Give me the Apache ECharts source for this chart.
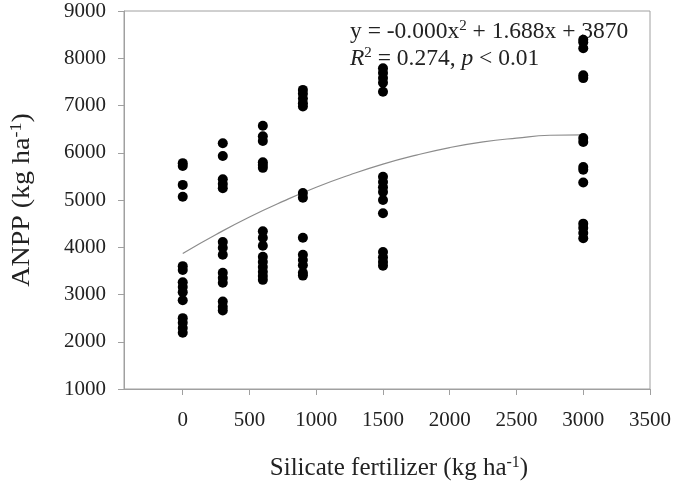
<!DOCTYPE html>
<html>
<head>
<meta charset="utf-8">
<script src="https://cdn.jsdelivr.net/npm/echarts@6/dist/echarts.min.js"></script>
<style>
html,body{margin:0;padding:0;background:#fff;}
#chart{width:675px;height:490px;}
</style>
</head>
<body>
<div id="chart"></div>
<script>
// Silicate fertilizer levels (kg ha-1)
var fertilizerLevels = [0, 300, 600, 900, 1500, 3000];
// ANPP observations (kg ha-1) at each level
var anpp0    = [5780, 5720, 5320, 5070, 3600, 3520, 3260, 3160, 3050, 2880, 2500, 2400, 2290, 2190];
var anpp300  = [6200, 5930, 5440, 5340, 5250, 4110, 3990, 3840, 3460, 3350, 3250, 2850, 2740, 2660];
var anpp600  = [6570, 6350, 6250, 5800, 5740, 5680, 4340, 4200, 4030, 3800, 3690, 3580, 3480, 3390, 3310];
var anpp900  = [7330, 7250, 7150, 7050, 6980, 5150, 5050, 4200, 3840, 3730, 3620, 3460, 3400];
var anpp1500 = [7790, 7690, 7580, 7480, 7290, 5490, 5380, 5270, 5170, 5000, 4720, 3900, 3790, 3690, 3610];
var anpp3000 = [8390, 8340, 8210, 7640, 7580, 6310, 6230, 5700, 5640, 5370, 4500, 4410, 4300, 4190];
var anppGroups = [anpp0, anpp300, anpp600, anpp900, anpp1500, anpp3000];

// Fitted quadratic curve
var fitX = [0, 250, 500, 750, 1000, 1250, 1500, 1750, 2000, 2250, 2500, 2750, 3000];
var fitY = [3870, 4270, 4640, 4970, 5270, 5530, 5760, 5950, 6110, 6230, 6310, 6370, 6380];

// Tick labels
var xTicks = [0, 500, 1000, 1500, 2000, 2500, 3000, 3500];
var yMin = 1000, yMax = 9000, yStep = 1000;

var points = [];
fertilizerLevels.forEach(function (x, i) {
  anppGroups[i].forEach(function (v) { points.push([x, v]); });
});
var fitLine = fitX.map(function (x, i) { return [x, fitY[i]]; });

var serif = '"Liberation Serif", "DejaVu Serif", serif';
var axisGray = '#a0a0a0';
var plain = function (v) { return String(v); };

var chart = echarts.init(document.getElementById('chart'), null, {renderer: 'canvas'});
chart.setOption({
  animation: false,
  backgroundColor: '#ffffff',
  grid: {
    left: 124, top: 11, right: 25, bottom: 101,
    show: true, borderColor: axisGray, borderWidth: 1, containLabel: false
  },
  xAxis: {
    type: 'value',
    min: -440, max: 3500,
    splitLine: {show: false},
    axisLine: {show: true, onZero: false, lineStyle: {color: axisGray, width: 1}},
    axisTick: {show: true, inside: false, length: 6, customValues: xTicks, lineStyle: {color: axisGray}},
    axisLabel: {customValues: xTicks, formatter: plain, margin: 21, fontFamily: serif, fontSize: 21, color: '#222'}
  },
  yAxis: {
    type: 'value',
    min: yMin, max: yMax, interval: yStep,
    splitLine: {show: false},
    axisLine: {show: true, onZero: false, lineStyle: {color: axisGray, width: 1}},
    axisTick: {show: true, inside: false, length: 6, lineStyle: {color: axisGray}},
    axisLabel: {formatter: plain, margin: 18, fontFamily: serif, fontSize: 21, color: '#222'}
  },
  series: [
    {
      type: 'line',
      data: fitLine,
      smooth: true,
      symbol: 'none',
      lineStyle: {color: '#8c8c8c', width: 1.2},
      z: 1
    },
    {
      type: 'scatter',
      data: points,
      symbol: 'circle',
      symbolSize: 10,
      itemStyle: {color: '#000000', opacity: 1},
      z: 2
    }
  ],
  graphic: [
    {
      type: 'text', left: 350, top: 19,
      style: {
        rich: {
          t: {fontFamily: serif, fontSize: 23.5, fill: '#222'},
          s: {fontFamily: serif, fontSize: 15, fill: '#222', verticalAlign: 'bottom', padding: [0, 0, 11, 0]}
        },
        text: '{t|y = -0.000x}{s|2}{t| + 1.688x + 3870}'
      }
    },
    {
      type: 'text', left: 350, top: 46,
      style: {
        rich: {
          t: {fontFamily: serif, fontSize: 23.5, fill: '#222'},
          i: {fontFamily: serif, fontSize: 23.5, fill: '#222', fontStyle: 'italic'},
          s: {fontFamily: serif, fontSize: 15, fill: '#222', verticalAlign: 'bottom', padding: [0, 0, 11, 0]}
        },
        text: '{i|R}{s|2}{t| = 0.274, }{i|p}{t| < 0.01}'
      }
    },
    {
      type: 'text', x: 399, y: 468,
      style: {
        rich: {
          t: {fontFamily: serif, fontSize: 25, fill: '#222'},
          s: {fontFamily: serif, fontSize: 16, fill: '#222', verticalAlign: 'bottom', padding: [0, 0, 11, 0]}
        },
        text: '{t|Silicate fertilizer (kg ha}{s|-1}{t|)}',
        align: 'center', verticalAlign: 'middle'
      }
    },
    {
      type: 'text', x: 22, y: 200, rotation: Math.PI / 2, scaleX: 1.12,
      style: {
        rich: {
          t: {fontFamily: serif, fontSize: 25, fill: '#222'},
          s: {fontFamily: serif, fontSize: 16, fill: '#222', verticalAlign: 'bottom', padding: [0, 0, 11, 0]}
        },
        text: '{t|ANPP (kg ha}{s|-1}{t|)}',
        align: 'center', verticalAlign: 'middle'
      }
    }
  ]
});
</script>
</body>
</html>
